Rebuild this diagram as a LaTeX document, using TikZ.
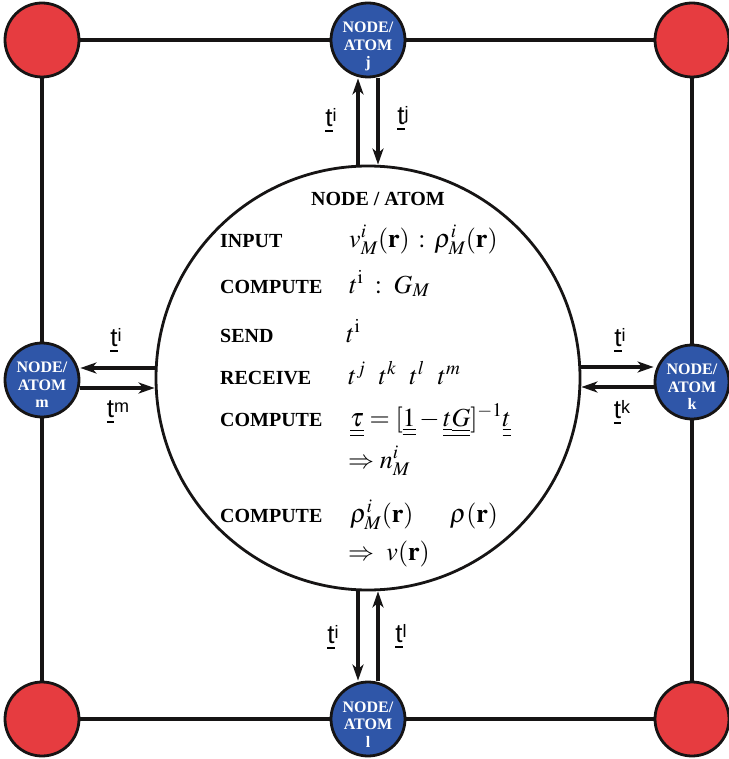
\documentclass[tikz,border=0pt]{standalone}
\usepackage{mathptmx}
\usepackage{fontspec}
\setmainfont{Liberation Serif}
\newfontfamily\labfont{Liberation Sans}
\usetikzlibrary{arrows.meta}

\definecolor{atomblue}{RGB}{47,86,168}
\definecolor{cornerred}{RGB}{230,60,64}
\definecolor{inkblack}{RGB}{22,20,20}

% underlined t with an upright superscript, used on the message arrows
\newcommand\ulbar[1]{\setbox0\hbox{#1}\rlap{\rule[-5.5pt]{\wd0}{1.9pt}}\box0}
\newcommand\tsym[1]{\ulbar{t}\raisebox{5pt}{\fontsize{18}{18}\selectfont #1}}
% matrix notation: double underline
\newcommand\mtx[1]{\underline{\underline{#1}}}

\begin{document}
\begin{tikzpicture}[x=1pt,y=-1pt,
  link/.style={line width=3.4pt, draw=inkblack},
  corner/.style={circle, draw=inkblack, line width=2.8pt, fill=cornerred,
                 minimum size=74pt, inner sep=0pt},
  atom/.style={circle, draw=inkblack, line width=2.8pt, fill=atomblue,
               minimum size=74pt, inner sep=0pt},
  atomtext/.style={text=white, font=\fontsize{16}{17.5}\selectfont\bfseries,
                   align=center, inner sep=0pt},
  flow/.style={line width=3.4pt, draw=inkblack,
               -{Stealth[length=16pt,width=11pt,inset=4.5pt]}},
  steplabel/.style={anchor=base west, inner sep=0pt,
                    font=\fontsize{20}{24}\selectfont\bfseries},
  formula/.style={anchor=base west, inner sep=0pt,
                  font=\fontsize{26}{30}\selectfont},
  tlabel/.style={font=\labfont\fontsize{26}{26}\selectfont, inner sep=0pt}]

\useasboundingbox (0,0) rectangle (728,759);

% corner sites
\node[corner] (TL) at (42,40) {};
\node[corner] (TR) at (692,40) {};
\node[corner] (BL) at (42,719) {};
\node[corner] (BR) at (692,719) {};

% neighbouring atoms
\node[atom] (J) at (368,40) {};
\node[atom] (L) at (368,719) {};
\node[atom] (M) at (42,380) {};
\node[atom] (K) at (692,382) {};

\node[atomtext] (Jt) at (368,46.5) {NODE/\\ATOM\\j};
\node[atomtext] (Lt) at (368,724.5) {NODE/\\ATOM\\l};
\node[atomtext] (Mt) at (42,385) {NODE/\\ATOM\\m};
\node[atomtext] (Kt) at (692,387) {NODE/\\ATOM\\k};

% lattice links
\draw[link] (TL) -- (J) -- (TR) -- (K) -- (BR) -- (L) -- (BL) -- (M) -- (TL);

% central atom
\node[circle, draw=inkblack, line width=2.8pt, minimum size=424pt, inner sep=0pt]
  (C) at (368,378) {};

% message arrows
\draw[flow] ([xshift=-10pt]C.north) -- ([xshift=-10pt]C.north |- J.south);
\draw[flow] ([xshift=10pt]C.north |- J.south) -- ([xshift=10pt]C.north);
\draw[flow] ([xshift=-10pt]C.south) -- ([xshift=-10pt]C.south |- L.north);
\draw[flow] ([xshift=10pt]C.south |- L.north) -- ([xshift=10pt]C.south);
\draw[flow] ([yshift=10pt]C.west) -- ([yshift=10pt]C.west -| M.east);
\draw[flow] ([yshift=-10pt]C.west -| M.east) -- ([yshift=-10pt]C.west);
\draw[flow] ([yshift=11pt]C.east) -- ([yshift=11pt]C.east -| K.west);
\draw[flow] ([yshift=-9pt]C.east -| K.west) -- ([yshift=-9pt]C.east);

% arrow labels
\node[tlabel] (aJi) at (331,120) {\tsym{i}};
\node[tlabel] (aJj) at (403,118) {\tsym{j}};
\node[tlabel] (aLi) at (333,637) {\tsym{i}};
\node[tlabel] (aLl) at (401,636) {\tsym{l}};
\node[tlabel] (aMi) at (116,340) {\tsym{i}};
\node[tlabel] (aMm) at (118,412) {\tsym{m}};
\node[tlabel] (aKi) at (620,340) {\tsym{i}};
\node[tlabel] (aKk) at (622,412) {\tsym{k}};

% algorithm inside the central atom
\node[anchor=base, inner sep=0pt, font=\fontsize{20}{24}\selectfont\bfseries]
  (title) at (378,205) {NODE / ATOM};

\node[steplabel] (s1) at (220,247) {INPUT};
\node[steplabel] (s2) at (220,293) {COMPUTE};
\node[steplabel] (s3) at (220,342) {SEND};
\node[steplabel] (s4) at (220,384) {RECEIVE};
\node[steplabel] (s5) at (220,426) {COMPUTE};
\node[steplabel] (s6) at (220,522) {COMPUTE};

\node[formula] (f1) at (349,247) {$v^i_M(\mathbf{r})\,:\,\rho^i_M(\mathbf{r})$};
\node[formula] (f2) at (349,293) {$t^{\mathrm{i}}\;:\;G_M$};
\node[formula] (f3) at (346,342) {$t^{\mathrm{i}}$};
\node[formula] (f4) at (348,384) {$t^j\ \ t^k\ \ t^l\ \ t^m$};
\node[formula] (f5) at (350,426)
  {$\mtx{\tau} = [\mtx{1} - \mtx{t}\mtx{G}]^{-1}\mtx{t}$};
\node[formula] (f6) at (348,468) {$\Rightarrow n^i_M$};
\node[formula] (f7) at (350,522) {$\rho^i_M(\mathbf{r})\hspace{1.4em}\rho(\mathbf{r})$};
\node[formula] (f8) at (348,560) {$\Rightarrow\ v(\mathbf{r})$};
\end{tikzpicture}
\end{document}
